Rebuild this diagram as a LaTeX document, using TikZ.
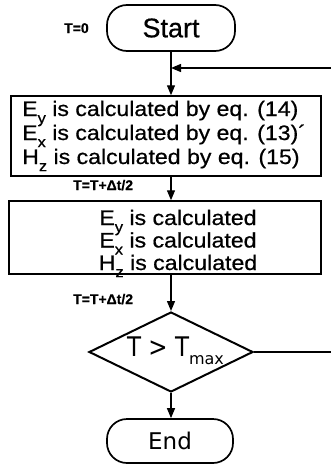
\documentclass[tikz,border=0pt]{standalone}
\usepackage{fontspec}
\setmainfont{Liberation Sans}[FakeBold=0.6]
\newfontfamily\dvfont{DejaVu Sans}
\usepackage{graphicx}
\usetikzlibrary{arrows.meta,shapes.geometric}
\newcommand\sbx[1]{\raisebox{-0.34em}{\fontsize{15pt}{15pt}\selectfont #1}}
\newcommand\wide[1]{\scalebox{1.1}[1]{#1}}
\begin{document}
\begin{tikzpicture}[x=1pt,y=-1pt,
  term/.style={draw,line width=1.7pt,rounded corners=20pt,inner sep=0pt},
  procbox/.style={draw,line width=1.5pt,inner sep=0pt},
  boxtxt/.style={font=\fontsize{21pt}{24pt}\selectfont,inner sep=0pt},
  lbl/.style={font=\fontsize{14pt}{14pt}\selectfont\bfseries,inner sep=0pt,anchor=base west},
  flow/.style={line width=1.3pt,-{Triangle[length=10pt,width=8pt]}},
  plain/.style={line width=1.3pt}]
\useasboundingbox (0,0) rectangle (331,466);
% terminals
\node[term,minimum width=128pt,minimum height=46pt,font=\fontsize{27pt}{27pt}\selectfont] (start) at (171,28) {Start};
\node[term,minimum width=126pt,minimum height=44pt,font=\dvfont\fontsize{23pt}{23pt}\selectfont] (end) at (170,441) {End};
% process boxes
\node[procbox,minimum width=310pt,minimum height=80pt] (box1) at (166,136) {};
\node[procbox,minimum width=312pt,minimum height=73pt] (box2) at (165,237.5) {};
\node[boxtxt,anchor=base west] (b1a) at (22,116) {\wide{E\sbx{y} is calculated by eq. (14)}};
\node[boxtxt,anchor=base west] (b1b) at (22,140) {\wide{E\sbx{x} is calculated by eq. (13)´}};
\node[boxtxt,anchor=base west] (b1c) at (22,164) {\wide{H\sbx{z} is calculated by eq. (15)}};
\node[boxtxt,anchor=base] (b2a) at (178,225) {\wide{E\sbx{y} is calculated}};
\node[boxtxt,anchor=base] (b2b) at (178,247.5) {\wide{E\sbx{x} is calculated}};
\node[boxtxt,anchor=base] (b2c) at (178,270) {\wide{H\sbx{z} is calculated}};
% decision
\node[diamond,draw,line width=2pt,minimum width=164pt,minimum height=80pt,inner sep=0pt] (dec) at (171,352) {};
\node[anchor=base west,inner sep=0pt,font=\dvfont\fontsize{27pt}{27pt}\selectfont] (cond) at (127,356) {\scalebox{0.85}[1]{T > T}\raisebox{-0.3em}{\fontsize{16pt}{16pt}\selectfont max}};
% labels
\node[lbl] (t0) at (64,33) {T=0};
\node[lbl] (t1) at (73,190) {T=T+Δt/2};
\node[lbl] (t2) at (73,304) {T=T+Δt/2};
% connectors
\coordinate (loopR) at (331,68);
\coordinate (exitR) at (331,352);
\draw[flow] (start.south) -- (start.south |- box1.north);
\draw[flow] (loopR) -- (start.south |- loopR);
\draw[flow] (start.south |- box1.south) -- (start.south |- box2.north);
\draw[flow] (start.south |- box2.south) -- (dec.north);
\draw[flow] (dec.south) -- (dec.south |- end.north);
\draw[plain] (dec.east) -- (exitR);
\end{tikzpicture}
\end{document}
